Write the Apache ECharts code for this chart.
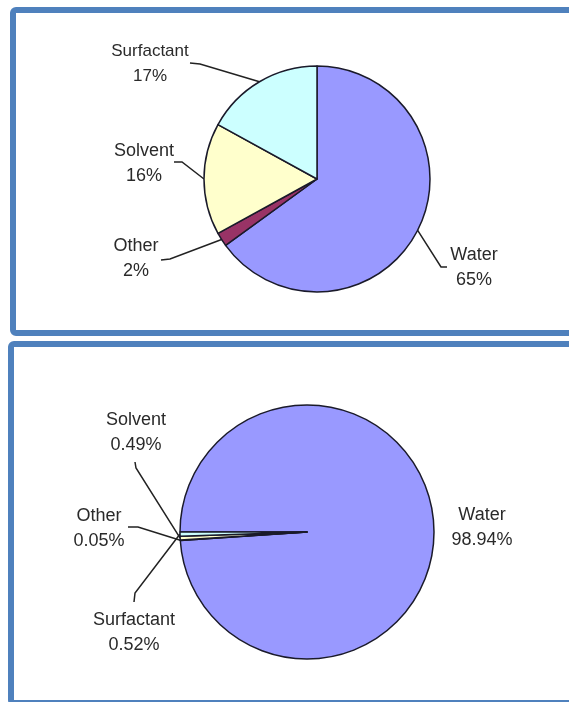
<!DOCTYPE html>
<html>
<head>
<meta charset="utf-8">
<script src="https://cdn.jsdelivr.net/npm/echarts@6/dist/echarts.min.js"></script>
<style>
html,body{margin:0;padding:0;background:#fff;}
#chart{width:569px;height:702px;}
</style>
</head>
<body>
<div id="chart"></div>
<script>
// ---- data ----
const categories = ['Water', 'Other', 'Solvent', 'Surfactant'];
const topValues = [65, 2, 16, 17];              // percent
const bottomValues = [98.94, 0.05, 0.49, 0.52]; // percent
const sliceColors = ['#9999ff', '#993366', '#ffffcc', '#ccffff'];

// ---- label layout (positions, not data) ----
const topLabelLayout = [
  {x: 474, y: 268, l1: [441, 267], l2: [447, 267], fs: 18},
  {x: 136, y: 259, l1: [170, 259], l2: [161, 260], fs: 18},
  {x: 144, y: 164, l1: [182, 162], l2: [174, 162], fs: 18},
  {x: 150, y: 64,  l1: [200, 64],  l2: [190, 63],  fs: 17}
];
const bottomLabelLayout = [
  {x: 482, y: 528, l1: null, l2: null, fs: 18},
  {x: 99,  y: 529, l1: [138, 527], l2: [128, 527], fs: 18},
  {x: 136, y: 433, l1: [136, 468], l2: [135, 462], fs: 18},
  {x: 134, y: 633, l1: [135, 593], l2: [134, 602], fs: 18}
];

function makeData(values, layout) {
  return categories.map((name, i) => ({
    name: name,
    value: values[i],
    itemStyle: {color: sliceColors[i]},
    label: {fontSize: layout[i].fs, lineHeight: 25},
    labelLine: {show: layout[i].l1 !== null}
  }));
}

function layoutFn(layout) {
  return function (params) {
    const cfg = layout[params.dataIndex];
    const res = {x: cfg.x, y: cfg.y, align: 'center', verticalAlign: 'middle'};
    if (cfg.l1 && params.labelLinePoints) {
      res.labelLinePoints = [params.labelLinePoints[0], cfg.l1, cfg.l2];
    }
    return res;
  };
}

const chart = echarts.init(document.getElementById('chart'), null, {renderer: 'canvas'});
const commonLabel = {
  show: true,
  formatter: '{b}\n{c}%',
  color: '#2a2a2a',
  fontFamily: 'Liberation Sans, Arial, sans-serif'
};
const commonLine = {lineStyle: {color: '#222', width: 1.5}, smooth: false};

chart.setOption({
  backgroundColor: '#ffffff',
  animation: false,
  graphic: [
    {type: 'rect', shape: {x: 13, y: 10, width: 620, height: 323, r: 3},
     style: {fill: 'none', stroke: '#4f81bd', lineWidth: 6}, z: 100},
    {type: 'rect', shape: {x: 11, y: 344, width: 620, height: 359, r: 3},
     style: {fill: 'none', stroke: '#4f81bd', lineWidth: 6}, z: 100}
  ],
  series: [
    {
      type: 'pie',
      center: [317, 179],
      radius: 113,
      startAngle: 90,
      clockwise: true,
      avoidLabelOverlap: false,
      itemStyle: {borderColor: '#1a1a2a', borderWidth: 1.5},
      label: commonLabel,
      labelLine: commonLine,
      labelLayout: layoutFn(topLabelLayout),
      emphasis: {disabled: true},
      data: makeData(topValues, topLabelLayout)
    },
    {
      type: 'pie',
      center: [307, 532],
      radius: 127,
      startAngle: 180,
      clockwise: true,
      avoidLabelOverlap: false,
      itemStyle: {borderColor: '#1a1a2a', borderWidth: 1.5},
      label: commonLabel,
      labelLine: commonLine,
      labelLayout: layoutFn(bottomLabelLayout),
      emphasis: {disabled: true},
      data: makeData(bottomValues, bottomLabelLayout)
    }
  ]
});
</script>
</body>
</html>
